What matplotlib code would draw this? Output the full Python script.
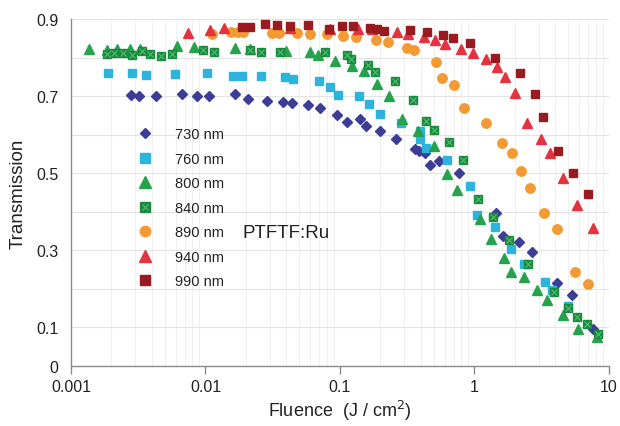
import matplotlib
matplotlib.use("Agg")
import matplotlib.pyplot as plt
from matplotlib.ticker import FixedLocator, NullFormatter, LogLocator
from matplotlib.lines import Line2D

plt.rcParams['font.family'] = ['Liberation Sans', 'DejaVu Sans']

# fluence (J/cm2) and transmission
x730 = [0.0028, 0.0032, 0.0043, 0.0067, 0.0087, 0.0107, 0.0167, 0.0206, 0.0288, 0.0375, 0.0437,
        0.058, 0.071, 0.095, 0.112, 0.142, 0.156, 0.20, 0.26, 0.36, 0.39, 0.43, 0.47, 0.55, 0.77,
        1.45, 1.64, 2.14, 2.68, 4.1, 5.33, 7.6]
y730 = [0.704, 0.702, 0.701, 0.705, 0.701, 0.702, 0.706, 0.694, 0.688, 0.686, 0.682,
        0.678, 0.671, 0.652, 0.634, 0.642, 0.622, 0.610, 0.590, 0.564, 0.559, 0.553, 0.523, 0.533, 0.501,
        0.397, 0.338, 0.322, 0.295, 0.215, 0.184, 0.097]

x760 = [0.00188, 0.00286, 0.00361, 0.00593, 0.0102, 0.0161, 0.0188, 0.0261, 0.0388, 0.0444,
        0.0695, 0.0843, 0.097, 0.138, 0.165, 0.200, 0.283, 0.394, 0.394, 0.436, 0.621, 0.926,
        1.05, 1.42, 1.87, 2.35, 3.38, 3.79, 4.98]
y760 = [0.760, 0.760, 0.756, 0.758, 0.761, 0.754, 0.754, 0.754, 0.749, 0.745,
        0.739, 0.723, 0.704, 0.700, 0.679, 0.654, 0.631, 0.609, 0.590, 0.567, 0.534, 0.466,
        0.392, 0.362, 0.304, 0.265, 0.217, 0.196, 0.157]

x800 = [0.00135, 0.00184, 0.00219, 0.00275, 0.00326, 0.00611, 0.00826, 0.0166, 0.0214, 0.0397,
        0.0598, 0.069, 0.0926, 0.122, 0.150, 0.189, 0.230, 0.292, 0.380, 0.500, 0.625, 0.748,
        1.10, 1.33, 1.67, 1.86, 2.35, 2.90, 3.44, 4.57, 5.91, 8.14]
y800 = [0.823, 0.819, 0.823, 0.823, 0.822, 0.830, 0.827, 0.825, 0.822, 0.818,
        0.816, 0.806, 0.793, 0.779, 0.765, 0.731, 0.701, 0.640, 0.611, 0.570, 0.499, 0.456,
        0.381, 0.330, 0.281, 0.243, 0.231, 0.196, 0.172, 0.132, 0.096, 0.075]

x840 = [0.00184, 0.00209, 0.00245, 0.00286, 0.00337, 0.00389, 0.00467, 0.00561, 0.00963, 0.0116,
        0.0214, 0.0261, 0.0361, 0.0773, 0.112, 0.121, 0.162, 0.181, 0.259, 0.349, 0.435, 0.503,
        0.643, 0.819, 1.06, 1.38, 1.81, 2.51, 3.92, 4.98, 5.75, 6.83, 8.32]
y840 = [0.809, 0.812, 0.812, 0.808, 0.817, 0.811, 0.805, 0.810, 0.819, 0.816,
        0.819, 0.815, 0.816, 0.814, 0.806, 0.797, 0.782, 0.763, 0.741, 0.691, 0.637, 0.613,
        0.581, 0.534, 0.433, 0.388, 0.328, 0.266, 0.191, 0.150, 0.126, 0.109, 0.083]

x890 = [0.0111, 0.0156, 0.0175, 0.0189, 0.031, 0.0355, 0.0479, 0.0596, 0.080, 0.106, 0.132,
        0.185, 0.228, 0.313, 0.355, 0.517, 0.570, 0.708, 0.835, 1.22, 1.60, 1.89, 2.24, 2.61,
        3.29, 4.13, 5.65, 7.02]
y890 = [0.863, 0.868, 0.868, 0.867, 0.864, 0.864, 0.865, 0.863, 0.862, 0.856, 0.853,
        0.846, 0.842, 0.825, 0.819, 0.790, 0.747, 0.730, 0.671, 0.631, 0.578, 0.553, 0.507, 0.461,
        0.397, 0.355, 0.245, 0.212]

x940 = [0.00738, 0.0108, 0.0137, 0.0425, 0.0843, 0.136, 0.173, 0.266, 0.322, 0.419, 0.508,
        0.604, 0.794, 0.975, 1.22, 1.47, 1.69, 2.01, 2.46, 3.15, 3.64, 4.59, 5.81, 7.64]
y940 = [0.865, 0.871, 0.878, 0.877, 0.875, 0.874, 0.875, 0.866, 0.861, 0.855, 0.845,
        0.836, 0.823, 0.813, 0.796, 0.776, 0.749, 0.709, 0.631, 0.590, 0.553, 0.488, 0.418, 0.358]

x990 = [0.0186, 0.0214, 0.0279, 0.0338, 0.0425, 0.0583, 0.0826, 0.103, 0.125, 0.166, 0.189,
        0.214, 0.333, 0.446, 0.586, 0.692, 0.934, 1.43, 2.19, 2.82, 3.26, 4.16, 5.38, 6.98]
y990 = [0.880, 0.881, 0.888, 0.886, 0.882, 0.886, 0.875, 0.882, 0.882, 0.878, 0.875,
        0.870, 0.871, 0.867, 0.860, 0.852, 0.838, 0.799, 0.761, 0.706, 0.646, 0.557, 0.502, 0.447]

labels = ['730 nm', '760 nm', '800 nm', '840 nm', '890 nm', '940 nm', '990 nm']

fig = plt.figure(figsize=(6.2, 4.27), dpi=100)
ax = fig.add_axes([0.1145, 0.1405, 0.8675, 0.812])

ax.set_xscale('log')
ax.set_xlim(0.001, 10)
ax.set_ylim(0, 0.9)

# gridlines
ax.yaxis.set_major_locator(FixedLocator([0, 0.1, 0.3, 0.5, 0.7, 0.9]))
ax.yaxis.set_minor_locator(FixedLocator([0.2, 0.4, 0.6, 0.8]))
ax.set_yticklabels(['0', '0.1', '0.3', '0.5', '0.7', '0.9'])
ax.grid(True, axis='y', which='both', color='#e4e4e4', linewidth=0.8)
ax.xaxis.set_minor_locator(LogLocator(base=10, subs=range(2, 10), numticks=20))
ax.xaxis.set_minor_formatter(NullFormatter())
ax.grid(True, axis='x', which='minor', color='#f0f0f0', linewidth=0.7)
ax.set_axisbelow(True)
ax.set_xticks([0.001, 0.01, 0.1, 1, 10])
ax.set_xticklabels(['0.001', '0.01', '0.1', '1', '10'])

for s in ['top', 'right']:
    ax.spines[s].set_visible(False)
for s in ['left', 'bottom']:
    ax.spines[s].set_color('#8a8a8a')
    ax.spines[s].set_linewidth(1.0)
ax.tick_params(axis='y', which='both', length=0, pad=9, labelsize=11.5, labelcolor='#222222')
ax.tick_params(axis='x', which='major', length=6, width=1, color='#8a8a8a', direction='out',
               pad=3, labelsize=11.5, labelcolor='#222222')
ax.tick_params(axis='x', which='minor', length=0)

kw = dict(linestyle='none', clip_on=False)
ax.plot(x730, y730, marker='D', ms=4.8, color='#3b3d97', **kw)
ax.plot(x760, y760, marker='s', ms=6.3, color='#2db4de', **kw)
ax.plot(x800, y800, marker='^', ms=7.3, color='#27a24c', **kw)
ax.plot(x840, y840, marker='s', ms=6.3, color='#1b8a41', **kw)
ax.plot(x840, y840, marker='x', ms=4, mew=0.8, color='#4fc06a', **kw)
ax.plot(x890, y890, marker='o', ms=6.8, color='#f49a32', **kw)
ax.plot(x940, y940, marker='^', ms=7.3, color='#e5323f', **kw)
ax.plot(x990, y990, marker='s', ms=6.3, color='#9a1b1f', **kw)

handles = [
    Line2D([], [], marker='D', ms=5, color='#3b3d97', linestyle='none'),
    Line2D([], [], marker='s', ms=7.5, color='#2db4de', linestyle='none'),
    Line2D([], [], marker='^', ms=8.5, color='#27a24c', linestyle='none'),
    (Line2D([], [], marker='s', ms=7.5, color='#1b8a41', linestyle='none'),
     Line2D([], [], marker='x', ms=4.5, mew=0.8, color='#4fc06a', linestyle='none')),
    Line2D([], [], marker='o', ms=7.5, color='#f49a32', linestyle='none'),
    Line2D([], [], marker='^', ms=8.5, color='#e5323f', linestyle='none'),
    Line2D([], [], marker='s', ms=7.5, color='#9a1b1f', linestyle='none'),
]
leg = ax.legend(handles, labels, loc='upper left', bbox_to_anchor=(0.114, 0.705), frameon=False,
                fontsize=10.5, handlelength=1.0, handletextpad=1.5, labelspacing=0.72,
                borderaxespad=0)
for t in leg.get_texts():
    t.set_color('#222222')

ax.text(0.318, 0.385, 'PTFTF:Ru', transform=ax.transAxes, fontsize=13.5, color='#222222',
        va='center', ha='left')

ax.set_xlabel('Fluence  (J / cm$^2$)', fontsize=13, color='#222222', labelpad=3)
ax.set_ylabel('Transmission', fontsize=13.5, color='#222222', labelpad=7)

fig.savefig('out.png', dpi=100, facecolor='white')
